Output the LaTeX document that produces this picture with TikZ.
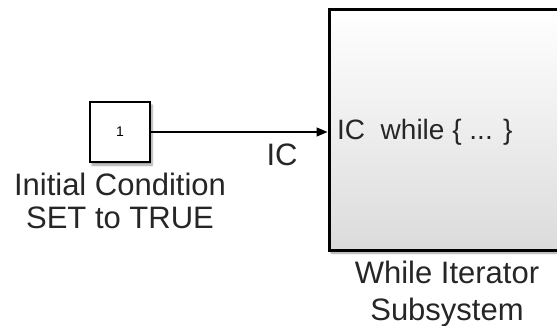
\documentclass[tikz,border=0pt]{standalone}
\usepackage{fontspec}
\setmainfont{Liberation Sans}
\usetikzlibrary{arrows.meta,shadows.blur}
\begin{document}
\begin{tikzpicture}[x=1pt,y=-1pt,
  blockshadow/.style={blur shadow={shadow xshift=2pt,shadow yshift=-3pt,shadow blur steps=6,shadow opacity=40}},
  label/.style={inner sep=0pt,align=center,text=black!85},
  sig/.style={line width=1.3pt,-{Triangle[length=11pt,width=9pt]}}]
\useasboundingbox (0,0) rectangle (557,326);
\clip (0,0) rectangle (557,326);
% small constant block
\node[draw,line width=1.2pt,fill=white,minimum width=60pt,minimum height=60pt,inner sep=0pt,blockshadow,
  font=\fontsize{14}{14}\selectfont] (ic) at (120,132) {1};
\node[label,anchor=base,font=\fontsize{31}{33}\selectfont] (iclab) at (120,228) {Initial Condition\\SET to TRUE};
% while iterator subsystem
\node[draw,line width=3pt,minimum width=238pt,minimum height=240pt,inner sep=0pt,
  top color=white,bottom color=black!14,blockshadow] (wis) at (448,130) {};
\node[label,anchor=base,font=\fontsize{31}{37}\selectfont] (wislab) at (447,320) {While Iterator\\Subsystem};
\node[anchor=base west,inner sep=0pt,font=\fontsize{28}{30}\selectfont,text=black!85] (port) at (337,140) {IC\ \ while \{ ... \}};
% signal
\draw[sig] (ic.east) -- (ic.east -| wis.west) coordinate (tip);
\node[label,anchor=base,font=\fontsize{31}{33}\selectfont] (siglab) at (282,165) {IC};
\end{tikzpicture}
\end{document}
